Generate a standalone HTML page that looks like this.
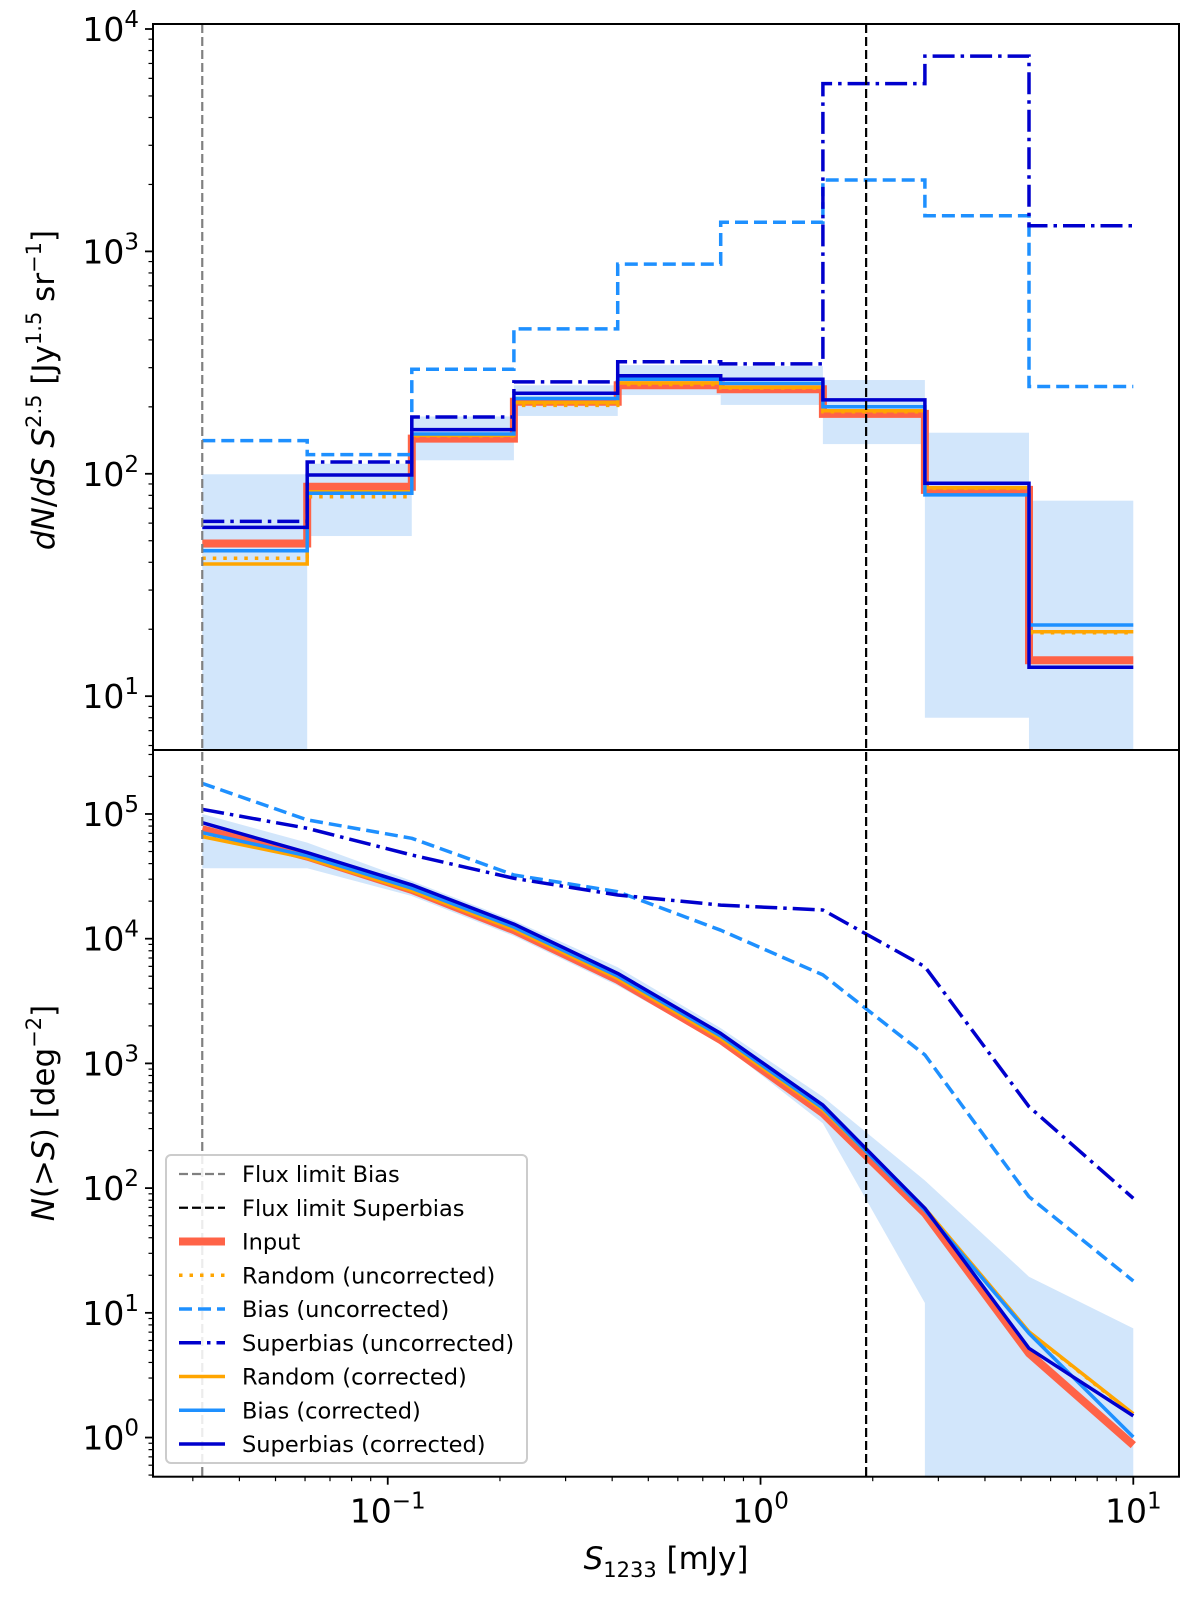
<!DOCTYPE html>
<html><head><meta charset="utf-8"><style>
html,body{margin:0;padding:0;background:#fff;}
svg{display:block;font-family:"DejaVu Sans","Liberation Sans",sans-serif;}
</style></head><body>
<svg id="chart" width="1200" height="1601" viewBox="0 0 1200 1601" xmlns="http://www.w3.org/2000/svg"></svg>
<script>
// ---- data ----
const binEdges = [0.0318, 0.0608, 0.116, 0.218, 0.414, 0.782, 1.47, 2.76, 5.25, 10.0];
// differential counts (top panel), one value per bin
const dnInput     = [48.6, 87.5, 144, 211, 250, 240, 186, 84.6, 14.5];
const dnRandUnc   = [41.7, 78.9, 148, 203, 252, 243, 190, 86, 19.3];
const dnBiasUnc   = [141, 122, 295, 448, 877, 1352, 2094, 1445, 247];
const dnSupUnc    = [61.1, 113, 180, 259, 319, 312, 5680, 7550, 1305];
const dnRandCor   = [39.3, 83.1, 149, 209, 256, 245, 192, 86.5, 19.5];
const dnBiasCor   = [45.1, 81.7, 151, 218, 266, 255, 200, 80.4, 20.9];
const dnSupCor    = [57.4, 98.8, 158, 230, 276, 266, 215, 90.6, 13.5];
const dnBandLow   = [0, 52.5, 115, 182, 226, 204, 136, 8.0, 0];
const dnBandHigh  = [99.5, 111, 181, 250, 308, 305, 264, 153, 75.7];
// cumulative counts (bottom panel), one value per bin edge
const cnInput     = [75300, 45500, 24600, 11700, 4670, 1540, 398, 62.8, 4.73, 0.87];
const cnRandUnc   = [67600, 44700, 24400, 12000, 4820, 1600, 427, 68.4, 7.0, 1.53];
const cnBiasUnc   = [176000, 89600, 63800, 32400, 23800, 11700, 5120, 1170, 85.3, 18.0];
const cnSupUnc    = [109000, 76800, 46900, 30500, 22400, 18600, 17000, 5960, 450, 82.8];
const cnRandCor   = [65800, 44200, 24300, 11900, 4790, 1580, 422, 68.9, 7.06, 1.55];
const cnBiasCor   = [70800, 46200, 25400, 12400, 5010, 1660, 437, 66.4, 6.84, 1.01];
const cnSupCor    = [85100, 49000, 27000, 13100, 5270, 1740, 463, 68.9, 5.19, 1.49];
const cnBandLow   = [36700, 36700, 22000, 10500, 4200, 1450, 330, 12, 0, 0];
const cnBandHigh  = [100000, 58900, 29000, 14000, 5900, 1920, 541, 115, 19.5, 7.5];
const fluxLimitBias = 0.0318;
const fluxLimitSuper = 1.92;
const legendLabels = ["Flux limit Bias","Flux limit Superbias","Input","Random (uncorrected)","Bias (uncorrected)","Superbias (uncorrected)","Random (corrected)","Bias (corrected)","Superbias (corrected)"];

// ---- geometry ----
const L = 153, R = 1179;
const xMin = -1.6297, xMax = 1.1226;
const topP = {t:24, b:750, yMin:0.758, yMax:4.0225};
const botP = {t:750, b:1476.7, yMin:-0.314, yMax:5.513};
const NS = "http://www.w3.org/2000/svg";
const svg = document.getElementById('chart');
function X(v){ return L + (Math.log10(v) - xMin) / (xMax - xMin) * (R - L); }
function Yf(p){ return v => p.b - (Math.log10(v) - p.yMin) / (p.yMax - p.yMin) * (p.b - p.t); }
const Yt = Yf(topP), Yb = Yf(botP);
function el(tag, attrs, parent){ const e = document.createElementNS(NS, tag); for (const k in attrs) e.setAttribute(k, attrs[k]); (parent||svg).appendChild(e); return e; }

const C = {red:'#ff6347', orange:'#ffa500', blue:'#1e90ff', navy:'#0000cd', band:'#d2e6fb'};
const styles = {
  input:{c:C.red,w:8,d:null}, randU:{c:C.orange,w:3.5,d:'3.5,7'}, biasU:{c:C.blue,w:3.5,d:'13,6'},
  supU:{c:C.navy,w:3.5,d:'22,6,3.5,6'}, randC:{c:C.orange,w:3.5,d:null}, biasC:{c:C.blue,w:3.5,d:null}, supC:{c:C.navy,w:3.5,d:null}
};

// clip paths
const defs = el('defs', {});
const cp1 = el('clipPath', {id:'clipTop'}, defs); el('rect', {x:L, y:topP.t, width:R-L, height:topP.b-topP.t}, cp1);
const cp2 = el('clipPath', {id:'clipBot'}, defs); el('rect', {x:L, y:botP.t, width:R-L, height:botP.b-botP.t}, cp2);

// ---- top panel ----
const gTop = el('g', {'clip-path':'url(#clipTop)'});


for (let i = 0; i < dnBandHigh.length; i++) {
  const lo = dnBandLow[i] > 0 ? Yt(dnBandLow[i]) : topP.b + 5;
  const r = el('rect', {x:X(binEdges[i]), y:Yt(dnBandHigh[i]), width:X(binEdges[i+1])-X(binEdges[i]), height:lo - Yt(dnBandHigh[i]), fill:C.band}, gTop);
  
  
}
function stepPath(vals){
  let d = '';
  for (let i = 0; i < vals.length; i++) {
    const y = Yt(vals[i]);
    d += (i === 0 ? 'M' : 'L') + X(binEdges[i]).toFixed(1) + ',' + y.toFixed(1) + 'L' + X(binEdges[i+1]).toFixed(1) + ',' + y.toFixed(1);
  }
  return d;
}
const topSeries = [['input',dnInput],['randU',dnRandUnc],['biasU',dnBiasUnc],['supU',dnSupUnc],['randC',dnRandCor],['biasC',dnBiasCor],['supC',dnSupCor]];
topSeries.forEach(([k, vals]) => {
  const s = styles[k];
  const p = el('path', {d:stepPath(vals), fill:'none', stroke:s.c, 'stroke-width':s.w, 'stroke-linejoin':'miter'}, gTop);
  if (s.d) p.setAttribute('stroke-dasharray', s.d);
  
  
});

// ---- bottom panel ----
const gBot = el('g', {'clip-path':'url(#clipBot)'});


(function(){
  let pts = [];
  for (let i = 0; i < binEdges.length; i++) pts.push([X(binEdges[i]), Yb(cnBandHigh[i])]);
  for (let i = binEdges.length - 1; i >= 0; i--) {
    if (cnBandLow[i] > 0) pts.push([X(binEdges[i]), Yb(cnBandLow[i])]);
    else {
      pts.push([X(binEdges[i]), botP.b + 5]);
      if (i > 0 && cnBandLow[i-1] > 0) pts.push([X(binEdges[i-1]), botP.b + 5]);
    }
  }
  const poly = el('polygon', {points:pts.map(p => p[0].toFixed(1)+','+p[1].toFixed(1)).join(' '), fill:C.band}, gBot);
  
  
})();
const botSeries = [['input',cnInput],['randU',cnRandUnc],['biasU',cnBiasUnc],['supU',cnSupUnc],['randC',cnRandCor],['biasC',cnBiasCor],['supC',cnSupCor]];
botSeries.forEach(([k, vals]) => {
  const s = styles[k];
  const d = vals.map((v, i) => (i ? 'L' : 'M') + X(binEdges[i]).toFixed(1) + ',' + Yb(v).toFixed(1)).join('');
  const p = el('path', {d:d, fill:'none', stroke:s.c, 'stroke-width':s.w, 'stroke-linejoin':'round'}, gBot);
  if (s.d) p.setAttribute('stroke-dasharray', s.d);
  
  
});

// flux-limit vertical lines
const vl1 = el('line', {x1:X(fluxLimitBias), x2:X(fluxLimitBias), y1:topP.t, y2:botP.b, stroke:'#808080', 'stroke-width':2.2, 'stroke-dasharray':'9,4'});


const vl2 = el('line', {x1:X(fluxLimitSuper), x2:X(fluxLimitSuper), y1:topP.t, y2:botP.b, stroke:'#000', 'stroke-width':2.2, 'stroke-dasharray':'9,4'});



// ---- axes ----
function frame(p, name){
  const r = el('rect', {x:L, y:p.t, width:R-L, height:p.b-p.t, fill:'none', stroke:'#000', 'stroke-width':2});
  
  
}
frame(topP, 'top-panel-frame'); frame(botP, 'bottom-panel-frame');

function powLabel(x, y, exp, anchor, name){
  const t = el('text', {x:x, y:y, 'font-size':33, 'text-anchor':anchor, fill:'#000'});
  
  
  const a = el('tspan', {}, t); a.textContent = '10';
  const b = el('tspan', {'font-size':23, dy:-14}, t); b.textContent = exp;
  return t;
}
function yTicks(p, Y, name){
  for (let d = Math.floor(p.yMin); d <= Math.ceil(p.yMax); d++) {
    for (let m = 1; m <= 9; m++) {
      const v = m * Math.pow(10, d), lv = Math.log10(v);
      if (lv < p.yMin || lv > p.yMax) continue;
      const y = Y(v), len = m === 1 ? 8 : 4.5;
      el('line', {x1:L-len, x2:L, y1:y, y2:y, stroke:'#000', 'stroke-width': m===1?1.8:1.2});
      if (m === 1) powLabel(L-14, y+12, String(d).replace('-', '\u2212'), 'end', name + '-tick-label');
    }
  }
}
yTicks(topP, Yt, 'top-y'); yTicks(botP, Yb, 'bottom-y');
for (let d = -2; d <= 1; d++) for (let m = 1; m <= 9; m++) {
  const v = m * Math.pow(10, d), lv = Math.log10(v);
  if (lv < xMin || lv > xMax) continue;
  const x = X(v), len = m === 1 ? 8 : 4.5;
  el('line', {x1:x, x2:x, y1:botP.b, y2:botP.b+len, stroke:'#000', 'stroke-width': m===1?1.8:1.2});
  if (m === 1) powLabel(x, botP.b+46, String(d).replace('-', '\u2212'), 'middle', 'x-tick-label');
}

// axis titles
(function(){
  const t = el('text', {x:0, y:0, 'font-size':31, 'text-anchor':'middle', transform:'translate(54,390) rotate(-90)'});
  
  
  t.innerHTML = '<tspan font-style="italic">dN</tspan>/<tspan font-style="italic">dS S</tspan><tspan font-size="21" dy="-13">2.5</tspan><tspan dy="13"> [Jy</tspan><tspan font-size="21" dy="-13">1.5</tspan><tspan dy="13"> sr</tspan><tspan font-size="21" dy="-13">\u22121</tspan><tspan dy="13">]</tspan>';
  const t2 = el('text', {x:0, y:0, 'font-size':31, 'text-anchor':'middle', transform:'translate(54,1113) rotate(-90)'});
  
  
  t2.innerHTML = '<tspan font-style="italic">N</tspan>(&gt;<tspan font-style="italic">S</tspan>) [deg<tspan font-size="21" dy="-13">\u22122</tspan><tspan dy="13">]</tspan>';
  const t3 = el('text', {x:666, y:1569, 'font-size':31, 'text-anchor':'middle'});
  
  
  t3.innerHTML = '<tspan font-style="italic">S</tspan><tspan font-size="21" dy="8">1233</tspan><tspan dy="-8"> [mJy]</tspan>';
})();

// legend
const lg = el('g', {});


el('rect', {x:166, y:1155, width:361, height:308, rx:5, fill:'#fff', 'fill-opacity':0.85, stroke:'#cccccc', 'stroke-width':2}, lg);
const legStyles = [{c:'#808080',w:2.2,d:'9,4'},{c:'#000',w:2.2,d:'9,4'},styles.input,styles.randU,styles.biasU,styles.supU,styles.randC,styles.biasC,styles.supC];
legendLabels.forEach((lab, i) => {
  const y = 1174 + i * 33.75, s = legStyles[i];
  const g = el('g', {}, lg);
  
  
  const ln = el('line', {x1:179, x2:225, y1:y, y2:y, stroke:s.c, 'stroke-width':s.w}, g);
  if (s.d) ln.setAttribute('stroke-dasharray', s.d);
  const t = el('text', {x:242, y:y+8, 'font-size':22.5, fill:'#000'}, g);
  t.textContent = lab;
});
</script>
</body></html>
